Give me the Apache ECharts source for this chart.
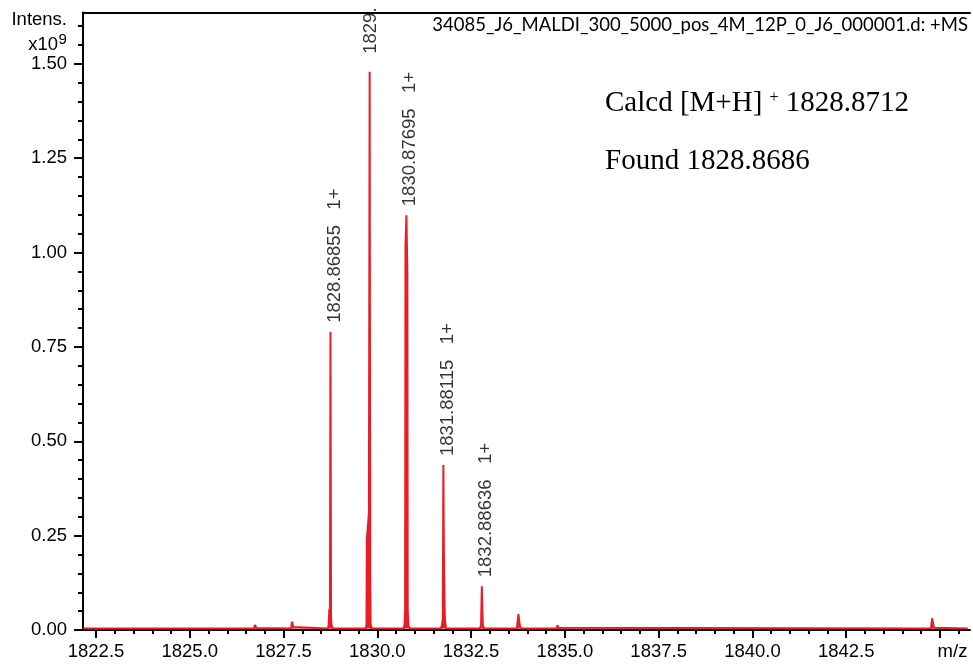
<!DOCTYPE html>
<html><head><meta charset="utf-8">
<script src="https://cdn.jsdelivr.net/npm/echarts@6/dist/echarts.min.js"></script>
<style>html,body{margin:0;padding:0;background:#fff}#c{width:973px;height:667px}</style>
</head><body><div id="c"></div>
<script>
// Profile spectrum (m/z, intensity in units of 1e9)
const profileMz = [
  1822.16,
  1826.71, 1826.735, 1826.78, 1826.80,
  1827.70, 1827.725, 1827.76, 1827.80,
  1828.68, 1828.70, 1828.72, 1828.735, 1828.75, 1828.765, 1828.78, 1828.81,
  1829.69, 1829.71, 1829.72, 1829.775, 1829.795, 1829.81, 1829.82, 1829.85,
  1830.70, 1830.725, 1830.74, 1830.75, 1830.775, 1830.80, 1830.81, 1830.83, 1830.86,
  1831.69, 1831.72, 1831.745, 1831.76, 1831.775, 1831.785, 1831.80, 1831.83,
  1832.73, 1832.765, 1832.785, 1832.80, 1832.815, 1832.85,
  1833.72, 1833.75, 1833.76, 1833.80, 1833.84,
  1834.78, 1834.80, 1834.83, 1834.86,
  1844.76, 1844.79, 1844.84, 1844.87,
  1845.74
];
const profileIntensity = [
  0.004,
  0.004, 0.013, 0.005, 0.004,
  0.004, 0.022, 0.008, 0.004,
  0.004, 0.012, 0.056, 0.030, 0.790, 0.035, 0.012, 0.004,
  0.004, 0.015, 0.240, 0.310, 1.479, 0.150, 0.015, 0.004,
  0.004, 0.015, 0.050, 1.020, 1.099, 0.950, 0.050, 0.012, 0.004,
  0.004, 0.012, 0.030, 0.437, 0.200, 0.110, 0.030, 0.004,
  0.004, 0.012, 0.116, 0.050, 0.010, 0.004,
  0.004, 0.008, 0.042, 0.010, 0.004,
  0.004, 0.013, 0.006, 0.004,
  0.004, 0.031, 0.006, 0.004,
  0.004
];
// Peak annotations
const peakLabelMz = [1828.86855, 1829.82, 1830.87695, 1831.88115, 1832.88636];
const peakLabelTop = [0.790, 1.479, 1.099, 0.437, 0.116];
const peakLabelText = ['1828.86855   1+', '1829.', '1830.87695   1+', '1831.88115   1+', '1832.88636   1+'];
// Axis ticks
const xTickValues = [1822.5, 1825.0, 1827.5, 1830.0, 1832.5, 1835.0, 1837.5, 1840.0, 1842.5, 1845.0];
const xTickLabels = ['1822.5', '1825.0', '1827.5', '1830.0', '1832.5', '1835.0', '1837.5', '1840.0', '1842.5', 'm/z'];
const yTickValues = [0, 0.25, 0.5, 0.75, 1.0, 1.25, 1.5];
const yTickLabels = ['0.00', '0.25', '0.50', '0.75', '1.00', '1.25', '1.50'];

const xMinorValues = [];
for (let v = 1823.0; v <= 1845.5 + 1e-9; v += 0.5) xMinorValues.push(+v.toFixed(1));
const yMinorValues = [];
for (let k = 1; k <= 32; k++) yMinorValues.push(+(k * 0.05).toFixed(2));

const X_MIN = 1822.153, X_MAX = 1845.8, Y_MAX = 1.636;
const SANS = "'Liberation Sans', Arial, sans-serif";
const SERIF = "'Liberation Serif', 'Times New Roman', serif";
const RED = '#ec1c24';
const axisLineStyle = { color: '#000', width: 2 };

const chart = echarts.init(document.getElementById('c'), null, { renderer: 'canvas' });
chart.setOption({
  animation: false,
  backgroundColor: '#fff',
  grid: { left: 83, right: 3, top: 12.5, bottom: 37, containLabel: false },
  xAxis: [
    {
      type: 'value', min: X_MIN, max: X_MAX, position: 'bottom',
      axisLine: { show: true, onZero: false, lineStyle: axisLineStyle },
      axisTick: { show: true, customValues: xTickValues, length: 8, lineStyle: axisLineStyle },
      axisLabel: {
        show: true, customValues: xTickValues, margin: 12, color: '#000',
        fontSize: 18.5, fontFamily: SANS,
        formatter: function (v) {
          const i = xTickValues.findIndex(t => Math.abs(t - v) < 1e-6);
          const s = i >= 0 ? xTickLabels[i] : '';
          return s === 'm/z' ? '{u|' + s + '}' : s;
        },
        rich: { u: { fontSize: 18.5, fontFamily: SANS, color: '#000', padding: [0, 0, 0, 25] } }
      },
      splitLine: { show: false }
    },
    {
      type: 'value', min: X_MIN, max: X_MAX, position: 'bottom',
      axisLine: { show: false, onZero: false },
      axisTick: { show: true, customValues: xMinorValues, length: 4, lineStyle: axisLineStyle },
      axisLabel: { show: false },
      splitLine: { show: false }
    },
    {
      type: 'value', min: X_MIN, max: X_MAX, position: 'top',
      axisLine: { show: true, onZero: false, lineStyle: axisLineStyle },
      axisTick: { show: false },
      axisLabel: { show: false },
      splitLine: { show: false }
    }
  ],
  yAxis: [
    {
      type: 'value', min: 0, max: Y_MAX, position: 'left',
      axisLine: { show: true, onZero: false, lineStyle: axisLineStyle },
      axisTick: { show: true, customValues: yTickValues, length: 9, lineStyle: axisLineStyle },
      axisLabel: {
        show: true, customValues: yTickValues, margin: 16, color: '#000',
        fontSize: 18.5, fontFamily: SANS,
        formatter: function (v) {
          const i = yTickValues.findIndex(t => Math.abs(t - v) < 1e-6);
          return i >= 0 ? yTickLabels[i] : '';
        }
      },
      splitLine: { show: false }
    },
    {
      type: 'value', min: 0, max: Y_MAX, position: 'left',
      axisLine: { show: false, onZero: false },
      axisTick: { show: true, customValues: yMinorValues, length: 5, lineStyle: axisLineStyle },
      axisLabel: { show: false },
      splitLine: { show: false }
    }
  ],
  series: [
    {
      type: 'line', xAxisIndex: 0, yAxisIndex: 0,
      data: profileMz.map((m, i) => [m, profileIntensity[i]]),
      showSymbol: false, symbol: 'none', silent: true,
      lineStyle: { color: RED, width: 2 },
      areaStyle: { color: RED, opacity: 1, origin: 0.004 },
      z: 3
    },
    {
      type: 'scatter', xAxisIndex: 0, yAxisIndex: 0,
      symbolSize: 0, silent: true,
      data: peakLabelMz.map((m, i) => ({
        value: [m, peakLabelTop[i]],
        name: peakLabelText[i],
        label: { distance: i === 1 ? 18 : 9 }
      })),
      label: {
        show: true, position: 'top', rotate: 90, align: 'left', verticalAlign: 'middle',
        color: '#000', fontSize: 18.5, fontFamily: SANS,
        formatter: p => p.name
      },
      z: 4
    }
  ],
  graphic: [
    { type: 'text', x: 67, y: 20, style: { text: 'Intens.', fill: '#000', fontSize: 18.5, fontFamily: SANS, align: 'right', textAlign: 'right', verticalAlign: 'middle', textVerticalAlign: 'middle' } },
    { type: 'text', x: 58, y: 45, style: { text: 'x10', fill: '#000', fontSize: 18.5, fontFamily: SANS, align: 'right', textAlign: 'right', verticalAlign: 'middle', textVerticalAlign: 'middle' } },
    { type: 'text', x: 58.5, y: 40, style: { text: '9', fill: '#000', fontSize: 15, fontFamily: SANS, align: 'left', textAlign: 'left', verticalAlign: 'middle', textVerticalAlign: 'middle' } },
    { type: 'text', x: 968, y: 25, style: { text: '34085_J6_MALDI_300_5000_pos_4M_12P_0_J6_000001.d: +MS', fill: '#000', fontSize: 18.5, fontFamily: "Lato, 'Open Sans', sans-serif", align: 'right', textAlign: 'right', verticalAlign: 'middle', textVerticalAlign: 'middle' } },
    { type: 'text', x: 605, y: 103, style: {
        text: '{t|Calcd [M+H] }{s|+}{t| 1828.8712}', fill: '#000', align: 'left', textAlign: 'left', verticalAlign: 'middle', textVerticalAlign: 'middle',
        rich: {
          t: { fontSize: 29, fontFamily: SERIF, fill: '#000', color: '#000' },
          s: { fontSize: 16, fontFamily: SERIF, fill: '#000', color: '#000', verticalAlign: 'top', padding: [1, 0, 0, 0] }
        }
      } },
    { type: 'text', x: 605, y: 161, style: { text: 'Found 1828.8686', fill: '#000', fontSize: 29, fontFamily: SERIF, align: 'left', textAlign: 'left', verticalAlign: 'middle', textVerticalAlign: 'middle' } }
  ]
});
</script>
</body></html>
